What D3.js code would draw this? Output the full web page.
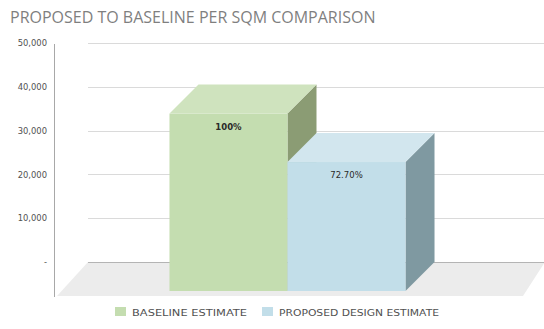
<!DOCTYPE html>
<html>
<head>
<meta charset="utf-8">
<script src="https://cdn.jsdelivr.net/npm/d3@7"></script>
<style>
  html, body { margin: 0; padding: 0; background: #fff; }
  svg { display: block; }
</style>
</head>
<body>
<svg id="chart" width="544" height="329"></svg>
<script>
// Chart data
const categories = ["BASELINE ESTIMATE", "PROPOSED DESIGN ESTIMATE"];
const values = [40500, 29444];
const valueLabels = ["100%", "72.70%"];
const yTicks = [0, 10000, 20000, 30000, 40000, 50000];
const yTickLabels = ["-", "10,000", "20,000", "30,000", "40,000", "50,000"];

// Face colours per series: front, top, side
const faceColors = [
  { front: "#c4ddb0", top: "#cfe3be", side: "#8b9c74" },
  { front: "#c2dee9", top: "#d2e6ee", side: "#7f99a1" }
];

const svg = d3.select("#chart");

// Oblique projection depth (back wall is shifted up-right from the front)
const depth = 29;
const floorDepth = 34;

// Back-wall plane scales
const y = d3.scaleLinear().domain([0, 50000]).range([262, 43]);
const xCat = d3.scaleBand().domain(["group"]).range([88, 545]).paddingInner(0).paddingOuter(0.468);
const xSeries = d3.scaleBand().domain(categories).range([xCat("group"), xCat("group") + xCat.bandwidth()]).padding(0);

// Floor
const fy0 = y(0);
svg.append("path")
  .attr("d", d3.line()([
    [88, fy0], [545, fy0], [545 - floorDepth + 12, fy0 + floorDepth], [88 - floorDepth + 3, fy0 + floorDepth]
  ]) + "Z")
  .attr("fill", "#ececec");

// Gridlines on the back wall
svg.append("g")
  .selectAll("line")
  .data(yTicks)
  .join("line")
  .attr("x1", 88).attr("x2", 544)
  .attr("y1", d => Math.round(y(d)) + 0.5)
  .attr("y2", d => Math.round(y(d)) + 0.5)
  .attr("stroke", d => d === 0 ? "#b4b4b4" : "#dadada")
  .attr("stroke-width", 1);

// Y axis
const yAxis = d3.axisLeft(y)
  .tickValues(yTicks)
  .tickFormat((d, i) => yTickLabels[i])
  .tickSize(0)
  .tickPadding(7);
const axisG = svg.append("g").attr("transform", "translate(54,0)").call(yAxis);
axisG.select(".domain").remove();
axisG.selectAll("text")
  .attr("font-family", "'DejaVu Sans', sans-serif")
  .attr("font-size", 8.4)
  .attr("fill", "#505050");
svg.append("line")
  .attr("x1", 54.5).attr("x2", 54.5).attr("y1", 44).attr("y2", 297)
  .attr("stroke", "#a8a8a8").attr("stroke-width", 1);

// 3D bars: back-plane x from the band scale, front = back shifted by depth
const bars = svg.append("g");
categories.forEach((c, i) => {
  const bx0 = xSeries(c), bx1 = bx0 + xSeries.bandwidth();
  const by0 = y(0), by1 = y(values[i]);
  const fx0 = bx0 - depth, fx1 = bx1 - depth;
  const fyb = by0 + depth, fyt = by1 + depth;
  const g = bars.append("g");
  // side face
  g.append("path")
    .attr("d", d3.line()([[fx1, fyt], [bx1, by1], [bx1, by0], [fx1, fyb]]) + "Z")
    .attr("fill", faceColors[i].side);
  // top face
  g.append("path")
    .attr("d", d3.line()([[fx0, fyt], [bx0, by1], [bx1, by1], [fx1, fyt]]) + "Z")
    .attr("fill", faceColors[i].top);
  // front face
  g.append("rect")
    .attr("x", fx0).attr("y", fyt)
    .attr("width", fx1 - fx0).attr("height", fyb - fyt)
    .attr("fill", faceColors[i].front);
  // value label
  g.append("text")
    .attr("x", (fx0 + fx1) / 2)
    .attr("y", fyt + 16)
    .attr("text-anchor", "middle")
    .attr("font-family", "'DejaVu Sans', sans-serif")
    .attr("font-size", 8.5)
    .attr("font-weight", i === 0 ? 700 : 400)
    .attr("fill", "#2a2a2a")
    .text(valueLabels[i]);
});

// Title
svg.append("text")
  .attr("x", 10).attr("y", 23)
  .attr("font-family", "'Open Sans', sans-serif")
  .attr("font-size", 16)
  .attr("fill", "#7f7f7f")
  .text("PROPOSED TO BASELINE PER SQM COMPARISON");

// Legend
const legendX = [115, 262];
const legendW = [115, 160];
const legend = svg.append("g");
categories.forEach((c, i) => {
  legend.append("rect")
    .attr("x", legendX[i]).attr("y", 307)
    .attr("width", 11).attr("height", 9)
    .attr("fill", faceColors[i].front);
  legend.append("text")
    .attr("x", legendX[i] + 17).attr("y", 315.5)
    .attr("font-family", "'DejaVu Sans', sans-serif")
    .attr("font-size", 9)
    .attr("textLength", legendW[i])
    .attr("lengthAdjust", "spacingAndGlyphs")
    .attr("fill", "#505050")
    .text(c);
});
</script>
</body>
</html>
